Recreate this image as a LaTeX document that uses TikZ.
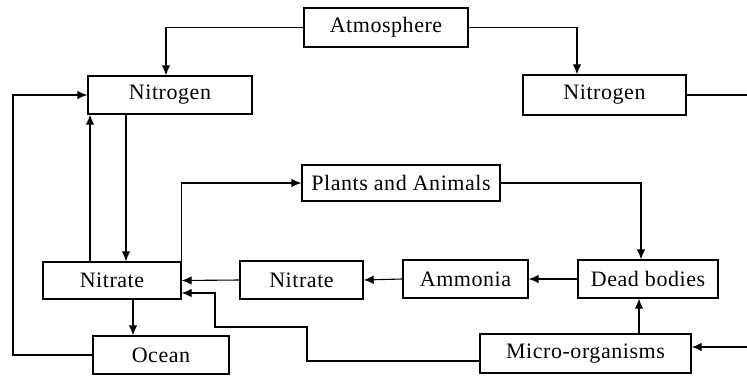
\documentclass[tikz,border=0pt]{standalone}
\usepackage{fontspec}
\setmainfont{Liberation Serif}[LetterSpace=2.5]
\usetikzlibrary{arrows.meta}
\begin{document}
\begin{tikzpicture}[x=1pt,y=-1pt,
  box/.style={draw,line width=1.4pt,rectangle,inner sep=0pt,font=\fontsize{22}{24}\selectfont},
  conn/.style={line width=1.1pt},
  arr/.style={conn,-{Latex[length=10pt,width=8.5pt]}}]
\useasboundingbox (0,0) rectangle (747,375);
\node[box,minimum width=164pt,minimum height=39pt] (atm) at (386,27.5) {Atmosphere};
\node[box,minimum width=164pt,minimum height=38pt] (n1) at (170,95) {Nitrogen};
\node[box,minimum width=163pt,minimum height=40pt] (n2) at (604.5,95) {Nitrogen};
\node[box,minimum width=198pt,minimum height=36pt] (plants) at (401,183) {Plants and Animals};
\node[box,minimum width=138pt,minimum height=37pt] (nitr1) at (112,280.5) {Nitrate};
\node[box,minimum width=123pt,minimum height=38pt] (nitr2) at (301.5,280) {Nitrate};
\node[box,minimum width=125pt,minimum height=38pt] (amm) at (465.5,279) {Ammonia};
\node[box,minimum width=140pt,minimum height=38pt] (dead) at (648,279) {Dead bodies};
\node[box,minimum width=136pt,minimum height=38pt] (ocean) at (161,355) {Ocean};
\node[box,minimum width=211pt,minimum height=39pt] (micro) at (585.5,353.5) {Micro-organisms};
\coordinate (rend1) at (747,95);
\coordinate (rend2) at (747,347);
\coordinate (lx) at (13,0);
\coordinate (m1) at (307,327);
\coordinate (m2) at (215,293);
% connectors
\draw[arr] (atm.west) -| ([xshift=-4pt]n1.north);
\draw[arr] (atm.east) -| ([xshift=-27.5pt]n2.north);
\draw[conn] (n2.east) -- (rend1);
\draw[arr] (ocean.west) -- (ocean.west -| lx) |- (n1.west);
\draw[arr] ([xshift=-44pt]n1.south) -- ([xshift=-44pt]n1.south |- nitr1.north);
\draw[arr] ([xshift=-22pt]nitr1.north) -- ([xshift=-22pt]nitr1.north |- n1.south);
\draw[arr] (nitr1.north east) |- (plants.west);
\draw[arr] (plants.east) -| ([xshift=-7pt]dead.north);
\draw[arr] (dead.west) -- (amm.east);
\draw[arr] (amm.west) -- (nitr2.east);
\draw[arr] (nitr2.west) -- (nitr1.east);
\draw[arr] ([xshift=21pt]nitr1.south) -- ([xshift=21pt]nitr1.south |- ocean.north);
\draw[arr] ([xshift=-9pt]dead.south |- micro.north) -- ([xshift=-9pt]dead.south);
\draw[arr] (rend2) -- (rend2 -| micro.east);
\draw[arr] ([yshift=-7.5pt]micro.west) -| (m1) -| (m2) -- (m2 -| nitr1.east);
\end{tikzpicture}
\end{document}
